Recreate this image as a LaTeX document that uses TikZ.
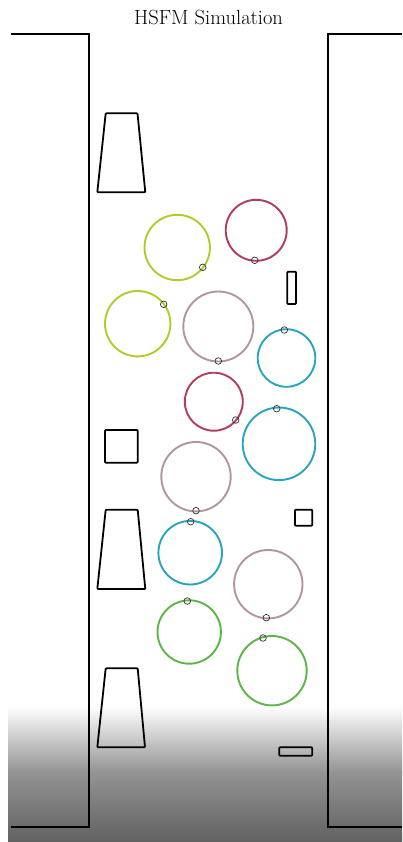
\documentclass[tikz,border=0pt]{standalone}
\begin{document}
\begin{tikzpicture}[x=1pt,y=-1pt,
  wall/.style={line width=1.8pt,line join=miter},
  obst/.style={line width=1.8pt,line join=round,rounded corners=0.8pt},
  agent/.style={line width=1.9pt},
  markerc/.style={line width=0.7pt,draw=black!80},
]
\definecolor{ygreen}{RGB}{181,201,43}
\definecolor{crim}{RGB}{178,60,92}
\definecolor{mauve}{RGB}{178,150,158}
\definecolor{cyanc}{RGB}{40,165,190}
\definecolor{grn}{RGB}{92,182,70}
\useasboundingbox (0,0) rectangle (402,842);
\fill[white] (0,0) rectangle (402,842);
% gradient floor
\shade[top color=white,bottom color=black!42] (8,706) rectangle (402,772);
\shade[top color=black!42,bottom color=black!62] (8,771.5) rectangle (402,842);
% title
\node[anchor=base,font=\fontsize{20.5}{24}\selectfont] (title) at (208.5,25) {HSFM Simulation};
% walls
\draw[wall] (11,34) -- (89,34) -- (89,827) -- (11,827);
\draw[wall] (402,34) -- (328,34) -- (328,827) -- (402,827);
% obstacles
\draw[obst] (105.7,113.3) -- (137.5,113.3) -- (145.3,192.3) -- (97.3,192.3) -- cycle;
\draw[obst] (105.7,509.7) -- (137.7,509.7) -- (145.3,589) -- (97.3,589) -- cycle;
\draw[obst] (105.7,668.3) -- (137.7,668.3) -- (145,747.3) -- (97.3,747.3) -- cycle;
\draw[obst] (105,430) rectangle (137.7,462.7);
\draw[obst] (287.3,271.7) rectangle (296,304);
\draw[obst] (295,509.7) rectangle (312.3,525.7);
\draw[obst] (279.3,747.3) rectangle (312.3,755.7);
% agents
\draw[agent,draw=ygreen] (177.2,247.5) circle[radius=32.7];
\draw[markerc] (202.7,267.3) circle[radius=3.3];
\draw[agent,draw=crim] (256.2,230.3) circle[radius=30.5];
\draw[markerc] (254.7,260.3) circle[radius=3.3];
\draw[agent,draw=ygreen] (137.7,323.7) circle[radius=32.7];
\draw[markerc] (163.7,304.3) circle[radius=3.3];
\draw[agent,draw=mauve] (218.3,326.5) circle[radius=35];
\draw[markerc] (218.3,361) circle[radius=3.3];
\draw[agent,draw=cyanc] (286.5,358) circle[radius=28.8];
\draw[markerc] (284.3,330) circle[radius=3.3];
\draw[agent,draw=crim] (213.8,401.7) circle[radius=29];
\draw[markerc] (235.7,420) circle[radius=3.3];
\draw[agent,draw=cyanc] (279,443.8) circle[radius=36.3];
\draw[markerc] (276.7,408.7) circle[radius=3.3];
\draw[agent,draw=mauve] (196,476.7) circle[radius=34.7];
\draw[markerc] (196,510.7) circle[radius=3.3];
\draw[agent,draw=cyanc] (190.2,552.7) circle[radius=31.8];
\draw[markerc] (190.7,521.7) circle[radius=3.3];
\draw[agent,draw=mauve] (268.3,584.2) circle[radius=34.2];
\draw[markerc] (266.3,617.7) circle[radius=3.3];
\draw[agent,draw=grn] (189.2,632) circle[radius=31.7];
\draw[markerc] (187.3,601) circle[radius=3.3];
\draw[agent,draw=grn] (272,670.7) circle[radius=34.7];
\draw[markerc] (263,638) circle[radius=3.3];
\end{tikzpicture}
\end{document}
